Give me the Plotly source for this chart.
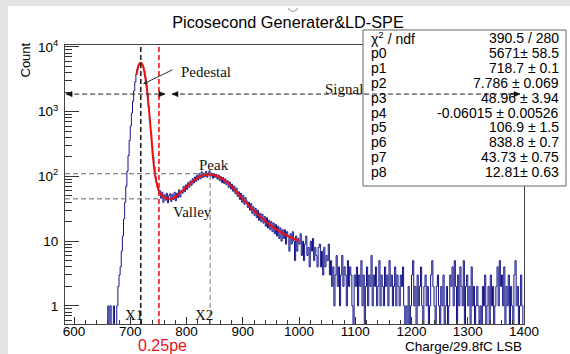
import numpy as np
import plotly.graph_objects as go

# ---------------- data ----------------
BIN_START = 656
BIN_WIDTH = 2
COUNTS = [
    # 656 - 674
    0, 0, 1, 0, 1, 0, 0, 1, 0, 0,
    # 676 - 750
    1, 2, 3, 4, 7, 12, 22, 40, 70, 120,
    210, 360, 600, 950, 1450, 2100, 2900, 3800, 4600, 5250,
    5620, 5700, 5500, 5000, 4300, 3400, 2550, 1800, 1200, 760,
    470, 290, 200, 140, 100, 80, 68, 60,
    # 752 - 998
    60, 46, 57, 40, 52, 43, 55, 39, 50, 54,
    41, 53, 44, 57, 42, 55, 47, 62, 48, 60,
    55, 70, 58, 74, 63, 80, 68, 85, 73, 92,
    79, 98, 84, 104, 88, 110, 92, 118, 96, 112,
    99, 120, 97, 113, 122, 101, 112, 94, 110, 97,
    108, 91, 105, 86, 99, 80, 96, 78, 92, 75,
    86, 68, 82, 64, 76, 59, 71, 54, 66, 49,
    58, 44, 55, 40, 51, 37, 47, 42, 33, 40,
    30, 38, 27, 34, 25, 32, 23, 30, 21, 27,
    20, 26, 19, 24, 17, 23, 16, 21, 15, 20,
    14, 19, 13, 18, 12, 17, 11, 16, 10, 15,
    11, 15, 9, 14, 12, 7, 13, 9, 14, 10,
    5, 12, 7, 11,
    # 1000 - 1398
    9, 13, 6, 10, 5, 9, 12, 6, 8, 4,
    10, 7, 11, 5, 8, 6, 4, 8, 9, 4,
    7, 3, 8, 4, 6, 5, 9, 3, 5, 2,
    4, 1, 3, 6, 2, 4, 1, 3, 6, 2,
    4, 3, 1, 5, 2, 4, 3, 1, 0, 3,
    2, 4, 1, 3, 2, 5, 1, 3, 0, 2,
    4, 1, 3, 2, 6, 1, 3, 2, 4, 1,
    2, 5, 1, 3, 2, 1, 4, 2, 3, 1,
    5, 2, 3, 1, 2, 4, 1, 3, 2, 1,
    3, 2, 4, 1, 0, 1, 0, 2, 0, 1,
    3, 5, 1, 2, 0, 3, 1, 2, 4, 1,
    0, 2, 3, 1, 2, 0, 1, 3, 5, 2,
    1, 0, 2, 3, 1, 0, 2, 1, 3, 0,
    1, 2, 0, 1, 3, 2, 4, 1, 5, 2,
    0, 3, 1, 4, 2, 1, 5, 0, 2, 3,
    1, 2, 0, 4, 1, 2, 0, 1, 2, 1,
    0, 1, 0, 2, 1, 3, 0, 1, 2, 0,
    3, 1, 2, 0, 1, 2, 4, 1, 5, 2,
    3, 1, 4, 0, 2, 1, 3, 0, 2, 1,
    0, 3, 5, 1, 2, 0, 1, 3, 1, 0,
]

FIT_X = [711, 712, 714, 716, 718, 719, 720, 722, 724, 726, 728, 730, 732, 734,
         736, 738, 740, 742, 744, 746, 748, 750, 752, 755, 760, 765, 770, 780,
         790, 800, 810, 820, 830, 840, 850, 860, 870, 880, 890, 900, 910, 920,
         930, 940, 950, 960, 970, 980, 990, 1000]
FIT_Y = [3700, 4150, 4900, 5450, 5660, 5671, 5600, 5230, 4560, 3720, 2880, 2080,
         1420, 920, 580, 360, 215, 145, 108, 86, 72, 63, 57, 52, 48, 46, 45, 48,
         57, 69, 82, 95, 104, 107, 104, 96, 84, 70, 56, 45, 36, 29.5,
         24.5, 20.5, 17.5, 15.2, 13.4, 12, 11, 10.2]

X1 = 718.7
X2 = 842.0
PE025 = 751.0
PEAK_COUNT = 110
VALLEY_COUNT = 45
SIGNAL_LEVEL = 1870
PEDESTAL_SPAN = [586.0, 761.8]
SIGNAL_SPAN = [774.2, 1392.9]
PED_POINTER = [722.7, 2670]

X_RANGE = [584, 1400]
Y_LOG_RANGE = [-0.28, 4.03]
X_TICKS = [600, 700, 800, 900, 1000, 1100, 1200, 1300, 1400]
Y_TICKS = [1, 10, 100, 1000, 10000]
Y_TICKTEXT = ["1", "10", "10<sup>2</sup>", "10<sup>3</sup>", "10<sup>4</sup>"]

STAT_LABELS = ["χ<sup>2</sup> / ndf", "p0", "p1", "p2", "p3", "p4", "p5", "p6", "p7", "p8"]
STAT_VALUES = ["390.5 / 280", "5671± 58.5", "718.7 ± 0.1", "7.786 ± 0.069",
               "48.96 ± 3.94", "-0.06015 ± 0.00526", "106.9 ± 1.5",
               "838.8 ± 0.7", "43.73 ± 0.75", "12.81± 0.63"]

# ---------------- layout helpers ----------------
W, H = 570, 354
L, R, T, B = 65, 524, 45, 324
PW, PH = R - L, B - T
SANS = "Liberation Sans, Arial, Helvetica, sans-serif"
SERIF = "Liberation Serif, Times New Roman, serif"


def xp(px):
    return (px - L) / PW


def yp(py):
    return (B - py) / PH


def ylev(v):
    return (np.log10(v) - Y_LOG_RANGE[0]) / (Y_LOG_RANGE[1] - Y_LOG_RANGE[0])


def px_to_x(px):
    return X_RANGE[0] + (px - L) * (X_RANGE[1] - X_RANGE[0]) / PW


counts = np.array(COUNTS, dtype=float)
edges = BIN_START + BIN_WIDTH * np.arange(len(counts) + 1)
y_plot = np.where(counts > 0, counts, 0.1)
step_y = np.append(y_plot, y_plot[-1])

fig = go.Figure()
fig.add_trace(go.Scatter(x=edges, y=step_y, mode="lines", line_shape="hv",
                         line=dict(color="#141488", width=1), hoverinfo="skip",
                         showlegend=False))
fig.add_trace(go.Scatter(x=FIT_X, y=FIT_Y, mode="lines", line_shape="spline",
                         line=dict(color="#ee1111", width=2), hoverinfo="skip",
                         showlegend=False))

shapes = []
# page background
shapes.append(dict(type="rect", xref="paper", yref="paper", x0=xp(8), x1=xp(580),
                   y0=yp(360), y1=yp(6), fillcolor="white", line=dict(width=0),
                   layer="below"))
shapes.append(dict(type="path", xref="paper", yref="paper",
                   path=f"M {xp(288)},{yp(8)} Q {xp(293)},{yp(15)} {xp(298)},{yp(8)}",
                   line=dict(color="#aaaaaa", width=1.2)))
# reference lines
shapes.append(dict(type="line", xref="x", yref="paper", x0=X1, x1=X1, y0=0, y1=1,
                   line=dict(color="#222222", width=1.6, dash="5px,3px")))
shapes.append(dict(type="line", xref="x", yref="paper", x0=PE025, x1=PE025, y0=0, y1=1,
                   line=dict(color="#ee1111", width=1.6, dash="5px,3px")))
shapes.append(dict(type="line", xref="x", yref="paper", x0=X2, x1=X2, y0=0,
                   y1=ylev(PEAK_COUNT), line=dict(color="#777777", width=1, dash="5px,3px")))
shapes.append(dict(type="line", xref="x", yref="paper", x0=X_RANGE[0], x1=X2,
                   y0=ylev(PEAK_COUNT), y1=ylev(PEAK_COUNT),
                   line=dict(color="#666666", width=1, dash="5px,3px")))
shapes.append(dict(type="line", xref="x", yref="paper", x0=X_RANGE[0], x1=PE025,
                   y0=ylev(VALLEY_COUNT), y1=ylev(VALLEY_COUNT),
                   line=dict(color="#666666", width=1, dash="5px,3px")))
# stats box
shapes.append(dict(type="rect", xref="paper", yref="paper", x0=xp(363), x1=xp(566),
                   y0=yp(186), y1=yp(30), fillcolor="white",
                   line=dict(color="#666666", width=1), layer="above"))
# signal / pedestal arrows
ys = ylev(SIGNAL_LEVEL)
for a, b in (PEDESTAL_SPAN, SIGNAL_SPAN):
    shapes.append(dict(type="line", xref="x", yref="paper", x0=a, x1=b, y0=ys, y1=ys,
                       line=dict(color="#222222", width=1, dash="5px,3px")))
hl = 6 * (X_RANGE[1] - X_RANGE[0]) / PW
hh = 2.6 / PH
for tip, d in ((PEDESTAL_SPAN[0], -1), (PEDESTAL_SPAN[1], 1),
               (SIGNAL_SPAN[0], -1), (SIGNAL_SPAN[1], 1)):
    base = tip - d * hl
    shapes.append(dict(type="path", xref="x", yref="paper",
                       path=f"M {tip},{ys} L {base},{ys + hh} L {base},{ys - hh} Z",
                       fillcolor="#111111", line=dict(color="#111111", width=0.5)))

ann = []
# stats text
for i, (lab, val) in enumerate(zip(STAT_LABELS, STAT_VALUES)):
    yy = yp(38 + i * 14.9)
    ann.append(dict(xref="paper", yref="paper", x=xp(369), y=yy, text=lab,
                    showarrow=False, xanchor="left", yanchor="middle",
                    font=dict(family=SANS, size=14, color="black")))
    ann.append(dict(xref="paper", yref="paper", x=xp(561), y=yy, text=val,
                    showarrow=False, xanchor="right", yanchor="middle",
                    font=dict(family=SANS, size=14, color="black")))

serif_labels = [("Pedestal", 206, 72), ("Signal", 344, 89), ("Peak", 214, 165),
                ("Valley", 192, 212), ("X1", 134, 315), ("X2", 204, 315)]
for txt, cx, cy in serif_labels:
    ann.append(dict(xref="x", yref="paper", x=px_to_x(cx), y=yp(cy), text=txt,
                    showarrow=False, xanchor="center", yanchor="middle",
                    font=dict(family=SERIF, size=15, color="#111111")))
# pedestal pointer
ann.append(dict(xref="x", yref="paper", x=PED_POINTER[0], y=ylev(PED_POINTER[1]),
                text="", showarrow=True, ax=31, ay=-15, arrowhead=2, arrowsize=0.9,
                arrowwidth=1, arrowcolor="#333333", standoff=0))
# axis texts
ann.append(dict(xref="x", yref="paper", x=px_to_x(162), y=yp(345), text="0.25pe",
                showarrow=False, xanchor="center", yanchor="middle",
                font=dict(family=SANS, size=16, color="#e3131b")))
ann.append(dict(xref="paper", yref="paper", x=1, y=yp(346.5), text="Charge/29.8fC LSB",
                showarrow=False, xanchor="right", yanchor="middle",
                font=dict(family=SANS, size=13.5, color="black")))
ann.append(dict(xref="paper", yref="paper", x=xp(25.5), y=yp(60), text="Count",
                showarrow=False, xanchor="center", yanchor="middle", textangle=-90,
                font=dict(family=SANS, size=13, color="black")))

minor_y = []
for dec in (0.1, 1, 10, 100, 1000):
    for k in range(2, 10):
        v = k * dec
        if 10 ** Y_LOG_RANGE[0] <= v <= 10 ** Y_LOG_RANGE[1]:
            minor_y.append(v)

fig.update_layout(
    template="none",
    width=W, height=H,
    margin=dict(l=L, r=W - R, t=T, b=H - B, pad=0),
    paper_bgcolor="#e4e4e4",
    plot_bgcolor="white",
    showlegend=False,
    title=dict(text="Picosecond Generater&LD-SPE", x=288 / W, xref="container",
               xanchor="center", y=1 - 22 / H, yref="container", yanchor="middle",
               font=dict(family=SANS, size=16.3, color="black")),
    xaxis=dict(range=X_RANGE, tickmode="array", tickvals=X_TICKS, ticks="inside",
               ticklen=7, tickwidth=1, tickcolor="#333333", showgrid=False,
               zeroline=False, showline=True, linecolor="#444444", linewidth=1,
               mirror=True, automargin=False, ticklabelstandoff=-5,
               tickfont=dict(family=SANS, size=13.5, color="black"),
               minor=dict(tick0=600, dtick=20, ticks="inside", ticklen=4,
                          tickcolor="#333333", showgrid=False)),
    yaxis=dict(type="log", range=Y_LOG_RANGE, tickmode="array", tickvals=Y_TICKS,
               ticktext=Y_TICKTEXT, ticks="inside", ticklen=14, tickwidth=1,
               tickcolor="#333333", showgrid=False, zeroline=False, showline=True,
               linecolor="#444444", linewidth=1, mirror=True, automargin=False,
               ticklabelstandoff=3,
               tickfont=dict(family=SANS, size=13.5, color="black"),
               minor=dict(tickmode="array", tickvals=minor_y, ticks="inside",
                          ticklen=7, tickcolor="#333333", showgrid=False)),
    shapes=shapes,
    annotations=ann,
)

fig.write_html("out.html")
